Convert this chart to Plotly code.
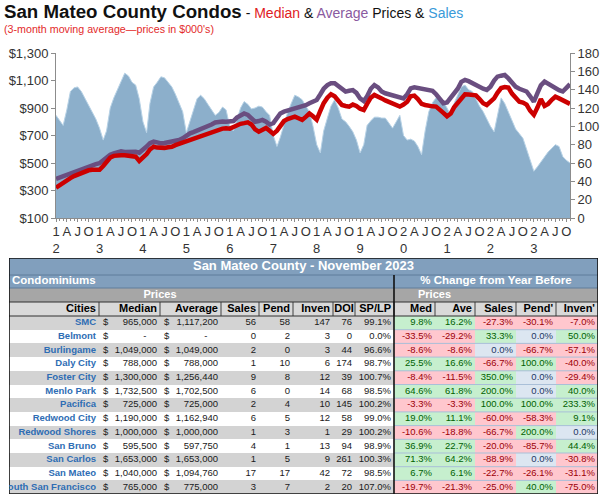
import plotly.graph_objects as go
import pandas as pd
import numpy as np

W, H = 605, 495
def fx(x): return x / W
def fy(y): return 1 - y / H

# ---------------- chart data (3-month moving averages, Jan 2012 - Nov 2023) ----------------
months = pd.date_range("2012-01-01", periods=143, freq="MS")

sales = [
    112, 106, 101, 118, 138, 142, 143, 138, 130, 123, 114, 108,   # 2012
    98, 85, 95, 120, 131, 140, 150, 158, 155, 148, 145, 130,      # 2013
    105, 93, 125, 143, 148, 154, 153, 148, 143, 135, 125, 116,    # 2014
    93, 105, 118, 130, 134, 130, 124, 118, 112, 115, 121, 118,    # 2015
    100, 95, 108, 120, 127, 124, 119, 120, 122, 121, 116, 112,    # 2016
    90, 78, 88, 102, 115, 125, 134, 132, 129, 122, 116, 100,      # 2017
    80, 71, 95, 109, 122, 129, 120, 108, 105, 100, 94, 85,        # 2018
    71, 80, 101, 106, 110, 110, 109, 109, 104, 98, 105, 112,      # 2019
    90, 85, 86, 84, 78, 69, 95, 116, 126, 131, 130, 127,          # 2020
    120, 112, 125, 135, 143, 145, 140, 138, 130, 122, 116, 108,   # 2021
    100, 94, 112, 131, 125, 115, 105, 97, 92, 87, 75, 62,         # 2022
    51, 56, 61, 66, 72, 76, 80, 78, 67, 63, 60,                   # 2023
]

median_k = [
    320, 340, 355, 372, 390, 405, 415, 428, 440, 447, 450, 452,
    450, 478, 510, 540, 552, 558, 556, 557, 552, 550, 546, 515,
    535, 565, 598, 618, 612, 607, 610, 615, 618, 630, 640, 648,
    655, 665, 675, 685, 695, 705, 712, 725, 738, 745, 750, 752,
    750, 762, 775, 785, 790, 796, 780, 745, 728, 745, 755, 735,
    712, 735, 775, 805, 820, 830, 837, 825, 813, 835, 860, 840,
    815, 880, 935, 975, 1000, 985, 955, 922, 915, 910, 925, 915,
    895, 885, 930, 975, 995, 985, 970, 955, 945, 928, 918, 910,
    925, 945, 985, 990, 965, 930, 922, 915, 912, 910, 890, 865,
    840, 860, 905, 935, 975, 1000, 998, 995, 992, 965, 935, 922,
    945, 970, 1010, 1045, 1052, 1048, 1005, 970, 946, 940, 925, 880,
    850, 905, 965, 915, 930, 960, 982, 970, 958, 945, 930,
]

average_k = [
    385, 395, 405, 418, 430, 440, 450, 460, 470, 478, 485, 492,
    498, 520, 545, 560, 570, 582, 585, 580, 582, 578, 582, 575,
    594, 620, 645, 655, 650, 643, 645, 650, 655, 660, 667, 680,
    700, 716, 725, 735, 745, 752, 765, 780, 795, 800, 802, 800,
    800, 805, 830, 850, 860, 850, 820, 800, 805, 813, 800, 780,
    790, 830, 860, 873, 880, 890, 895, 898, 905, 920, 934, 945,
    958, 1000, 1040, 1067, 1080, 1080, 1060, 1035, 1019, 1025, 1030, 1010,
    970, 950, 985, 1040, 1067, 1050, 1020, 1007, 1000, 995, 985, 975,
    970, 1000, 1043, 1050, 1045, 1040, 1030, 1028, 1025, 1000, 960, 935,
    940, 975, 995, 1040, 1090, 1104, 1095, 1080, 1065, 1050, 1040, 1031,
    1055, 1100, 1128, 1135, 1140, 1115, 1080, 1055, 1040, 1030, 1020, 985,
    946, 1010, 1065, 1092, 1075, 1060, 1048, 1030, 1020, 1050, 1073,
]

price_ticks = [100, 300, 500, 700, 900, 1100, 1300]
sales_ticks = [0, 20, 40, 60, 80, 100, 120, 140, 160, 180]
quarter_ticks = pd.date_range("2012-01-01", "2023-10-01", freq="QS")
quarter_letters = {4: "A", 7: "J", 10: "O"}

# ---------------- table data ----------------
table_title = "San Mateo County - November 2023"
section_left = "Condominiums"
section_right = "% Change from Year Before"
group_label = "Prices"
col_headers = ["Cities", "Median", "Average", "Sales", "Pend", "Inven", "DOI", "SP/LP",
               "Med", "Ave", "Sales", "Pend'", "Inven'"]

cities = ["SMC", "Belmont", "Burlingame", "Daly City", "Foster City", "Menlo Park",
          "Pacifica", "Redwood City", "Redwood Shores", "San Bruno", "San Carlos",
          "San Mateo", "South San Francisco"]
t_median = [965000, None, 1049000, 788000, 1300000, 1732500, 725000, 1190000,
            1000000, 595500, 1653000, 1040000, 765000]
t_average = [1117200, None, 1049000, 788000, 1256440, 1702500, 725000, 1162940,
             1000000, 597750, 1653000, 1094760, 775000]
t_sales = [56, 0, 2, 1, 9, 6, 2, 6, 1, 4, 1, 17, 3]
t_pend = [58, 2, 0, 10, 8, 0, 4, 5, 3, 1, 5, 17, 7]
t_inven = [147, 3, 3, 6, 12, 14, 10, 12, 1, 13, 9, 42, 2]
t_doi = [76, 0, 44, 174, 39, 68, 145, 58, 29, 94, 261, 72, 20]
t_splp = [99.1, 0.0, 96.6, 98.7, 100.7, 98.5, 100.2, 99.0, 100.2, 98.9, 100.3, 98.5, 107.0]
chg_med = [9.8, -33.5, -8.6, 25.5, -8.4, 64.6, -3.3, 19.0, -10.6, 36.9, 71.3, 6.7, -19.7]
chg_ave = [16.2, -29.2, -8.6, 16.6, -11.5, 61.8, -3.3, 11.1, -18.8, 22.7, 64.2, 6.1, -21.3]
chg_sales = [-27.3, 33.3, 0.0, -66.7, 350.0, 200.0, 100.0, -60.0, -66.7, -20.0, -88.9, -22.7, -25.0]
chg_pend = [-30.1, 0.0, -66.7, 100.0, 0.0, 0.0, 100.0, -58.3, 200.0, -85.7, 0.0, -26.1, 40.0]
chg_inven = [-7.0, 50.0, -57.1, -40.0, -29.4, 40.0, 233.3, 9.1, 0.0, 44.4, -30.8, -31.1, -75.0]

# ---------------- styles ----------------
SANS = "Liberation Sans, Arial, sans-serif"
AXIS_C = "#8C8C8C"
TICK_FONT = dict(family=SANS, size=13, color="#333333")

# table geometry (style): column widths and row heights in px
col_widths = [90, 61, 61, 38, 34, 40, 22, 39, 41, 40, 41, 40, 42]
n_left = 8                       # columns before the "% change" section
head_heights = [17, 13, 14, 14]
data_height = 13.7
TX0, TY0 = 9, 258                # table top-left in figure px

CELL_COLORS = ["#819FBD", "#A6A6A6", "#D9D9D9", "#D3D3D3", "#FFFFFF",
               "#C6EFCE", "#FFC7CE", "#DCE6F1"]
BLUE, GRAYH, LIGHT, ROWG, WHITE, GREEN, PINK, LBLUE = range(8)
POS_TXT, NEG_TXT, ZERO_TXT = "#006100", "#9C0006", "#1F3864"

fig = go.Figure()

# ---------------- chart ----------------
fig.add_trace(go.Scatter(x=months, y=sales, mode="lines", fill="tozeroy",
                         fillcolor="#8CAFCB", line=dict(color="#B7D2E6", width=1),
                         xaxis="x", yaxis="y", hoverinfo="skip", showlegend=False))
fig.add_trace(go.Scatter(x=months, y=average_k, mode="lines",
                         line=dict(color="#6A4E80", width=4.5),
                         xaxis="x", yaxis="y2", hoverinfo="skip", showlegend=False))
fig.add_trace(go.Scatter(x=months, y=median_k, mode="lines",
                         line=dict(color="#CC0000", width=4.5),
                         xaxis="x", yaxis="y2", hoverinfo="skip", showlegend=False))

ticktext = []
for d in quarter_ticks:
    if d.month == 1:
        yy = str(d.year)
        ticktext.append(f"{yy[2]}<br>{yy[3]}")
    else:
        ticktext.append(quarter_letters[d.month])

# ---------------- table (drawn on its own hidden axes) ----------------
n = len(cities)
x_edges = np.concatenate([[0], np.cumsum(col_widths)])
row_heights = head_heights + [data_height] * n
y_edges = np.concatenate([[0], np.cumsum(row_heights)])
y_mid = (y_edges[:-1] + y_edges[1:]) / 2
TW, TH = x_edges[-1], y_edges[-1]
n_cols = len(col_widths)
xr = x_edges[1:]           # right edges
xl = x_edges[:-1]          # left edges
x_split = x_edges[n_left]

def sign_code(v):
    return GREEN if v > 0 else (PINK if v < 0 else LBLUE)

def sign_txt(v):
    return POS_TXT if v > 0 else (NEG_TXT if v < 0 else ZERO_TXT)

chg_cols = [chg_med, chg_ave, chg_sales, chg_pend, chg_inven]

z = [[BLUE] * n_cols, [BLUE] * n_cols, [GRAYH] * n_cols, [LIGHT] * n_cols]
for i in range(n):
    base = ROWG if i % 2 == 0 else WHITE
    z.append([base] * n_left + [sign_code(col[i]) for col in chg_cols])

k = len(CELL_COLORS)
cscale = []
for j, c in enumerate(CELL_COLORS):
    cscale += [[j / k, c], [(j + 1) / k, c]]

fig.add_trace(go.Heatmap(x=x_edges, y=y_edges, z=z, zmin=-0.5, zmax=k - 0.5,
                         colorscale=cscale, showscale=False, hoverinfo="skip",
                         xaxis="x2", yaxis="y3"))

# grid lines
def seg_trace(segs, color, width):
    xs, ys = [], []
    for (xa, ya, xb, yb) in segs:
        xs += [xa, xb, None]
        ys += [ya, yb, None]
    return go.Scatter(x=xs, y=ys, mode="lines", line=dict(color=color, width=width),
                      xaxis="x2", yaxis="y3", hoverinfo="skip", showlegend=False)

hy = y_edges[3], y_edges[4]   # header row top / bottom
light_segs = [(x_split, y_edges[r], TW, y_edges[r]) for r in range(5, len(y_edges) - 1)]
fig.add_trace(seg_trace(light_segs, "#A9BFD8", 1))
fig.add_trace(seg_trace([(0, y_edges[1], TW, y_edges[1]),
                         (0, y_edges[2], TW, y_edges[2])], "#5E7D9B", 1))
fig.add_trace(seg_trace([(xr[c], hy[0], xr[c], hy[1]) for c in range(n_cols - 1)],
                        "#404040", 1))
fig.add_trace(seg_trace([(0, hy[0], TW, hy[0]), (0, hy[1], TW, hy[1])], "#303030", 1))
fig.add_trace(seg_trace([(0, 0, TW, 0), (TW, 0, TW, TH), (TW, TH, 0, TH), (0, TH, 0, 0),
                         (x_split, y_edges[1], x_split, TH)], "#111111", 1.6))

# texts: right aligned group
rx, ry, rt, rc, rs = [], [], [], [], []
def add_r(x, y, t, c, s):
    rx.append(x - 3); ry.append(y); rt.append(t); rc.append(c); rs.append(s)

centered_headers = {"DOI"}
for c, h in enumerate(col_headers):
    if h not in centered_headers:
        add_r(xr[c], y_mid[3], f"<b>{h}</b>", "#000000", 11)

def money(v):
    return "-\u2007\u2007" if v is None else f"{v:,}"

left_text_cols = [
    [f"<b>{c}</b>" for c in cities],
    [money(v) for v in t_median],
    [money(v) for v in t_average],
    [str(v) for v in t_sales],
    [str(v) for v in t_pend],
    [str(v) for v in t_inven],
    [str(v) for v in t_doi],
    [f"{v:.1f}%" for v in t_splp],
]
for i in range(n):
    y = y_mid[4 + i]
    for c, col in enumerate(left_text_cols):
        add_r(xr[c], y, col[i], "#2E6DB4" if c == 0 else "#1A1A1A", 9.5)
    for j, col in enumerate(chg_cols):
        add_r(xr[n_left + j], y, f"{col[i]:.1f}%", sign_txt(col[i]), 9.5)

fig.add_trace(go.Scatter(x=rx, y=ry, text=rt, mode="text", textposition="middle left",
                         textfont=dict(family=SANS, size=rs, color=rc),
                         xaxis="x2", yaxis="y3", hoverinfo="skip", showlegend=False))

# texts: left aligned group ("$" signs and section label)
lx, ly, lt, lc, ls = [], [], [], [], []
for i in range(n):
    for c in (1, 2):
        lx.append(xl[c] + 4); ly.append(y_mid[4 + i]); lt.append("$")
        lc.append("#1A1A1A"); ls.append(9.5)
lx.append(3); ly.append(y_mid[1]); lt.append(f"<b>{section_left}</b>")
lc.append("#FFFFFF"); ls.append(11.5)
fig.add_trace(go.Scatter(x=lx, y=ly, text=lt, mode="text", textposition="middle right",
                         textfont=dict(family=SANS, size=ls, color=lc),
                         xaxis="x2", yaxis="y3", hoverinfo="skip", showlegend=False))

# texts: centered group
cx = [TW / 2, (x_split + TW) / 2, (xl[1] + xr[2]) / 2, (xl[n_left] + xr[n_left + 1]) / 2]
cy = [y_mid[0], y_mid[1], y_mid[2], y_mid[2]]
ct = [f"<b>{table_title}</b>", f"<b>{section_right}</b>",
      f"<b>{group_label}</b>", f"<b>{group_label}</b>"]
cs = [13, 11.5, 11, 11]
cc = ["#FFFFFF"] * 4
for c, h in enumerate(col_headers):
    if h in centered_headers:
        cx.append((xl[c] + xr[c]) / 2); cy.append(y_mid[3]); ct.append(f"<b>{h}</b>")
        cs.append(11); cc.append("#000000")
fig.add_trace(go.Scatter(x=cx, y=cy, text=ct, mode="text", textposition="middle center",
                         textfont=dict(family=SANS, size=cs, color=cc),
                         xaxis="x2", yaxis="y3", hoverinfo="skip", showlegend=False))

fig.update_layout(
    width=W, height=H,
    margin=dict(l=0, r=0, t=0, b=0),
    paper_bgcolor="white", plot_bgcolor="rgba(0,0,0,0)",
    showlegend=False, hovermode=False,
    xaxis=dict(domain=[fx(56), fx(570)], type="date", automargin=False,
               range=[months[0], months[-1]],
               tickvals=list(quarter_ticks), ticktext=ticktext,
               ticks="outside", ticklen=3, tickcolor=AXIS_C, ticklabelstandoff=-2,
               minor=dict(ticks="outside", ticklen=2, dtick="M1", tickcolor=AXIS_C),
               showline=True, linecolor=AXIS_C, linewidth=1, anchor="y",
               showgrid=False, zeroline=False, tickfont=TICK_FONT, tickangle=0),
    yaxis=dict(domain=[fy(218), fy(53)], side="right", range=[0, 180], automargin=False,
               tickvals=sales_ticks, ticks="outside", ticklen=4, tickcolor=AXIS_C,
               showline=True, linecolor=AXIS_C, showgrid=False, zeroline=False,
               tickfont=TICK_FONT, anchor="x"),
    yaxis2=dict(overlaying="y", side="left", range=[100, 1300], automargin=False,
                tickvals=price_ticks, ticktext=[f"${v:,}" for v in price_ticks],
                ticks="outside", ticklen=4, tickcolor=AXIS_C, anchor="x",
                showline=True, linecolor=AXIS_C, showgrid=False, zeroline=False,
                tickfont=TICK_FONT),
    xaxis2=dict(domain=[fx(TX0), fx(TX0 + TW)], range=[0, TW], visible=False,
                automargin=False, fixedrange=True, anchor="y3"),
    yaxis3=dict(domain=[fy(TY0 + TH), fy(TY0)], range=[TH, 0], visible=False,
                automargin=False, fixedrange=True, anchor="x2"),
    annotations=[
        dict(xref="paper", yref="paper", x=fx(2), y=fy(-1), xanchor="left", yanchor="top",
             showarrow=False, align="left",
             font=dict(family=SANS, size=18.7, color="#111111"),
             text="<b>San Mateo County Condos</b><span style='font-size:14px'> - "
                  "<span style='color:#E0201E'>Median</span> &amp; "
                  "<span style='color:#8A5AA0'>Average</span> Prices &amp; "
                  "<span style='color:#3A9AD9'>Sales</span></span>"),
        dict(xref="paper", yref="paper", x=fx(2), y=fy(21), xanchor="left", yanchor="top",
             showarrow=False, align="left",
             font=dict(family=SANS, size=10.7, color="#E32A2A"),
             text="(3-month moving average\u2014prices in $000's)"),
    ],
)

fig.write_html("out.html", include_plotlyjs=True, config=dict(displayModeBar=False),
               post_script="document.body.style.margin='0px';")
